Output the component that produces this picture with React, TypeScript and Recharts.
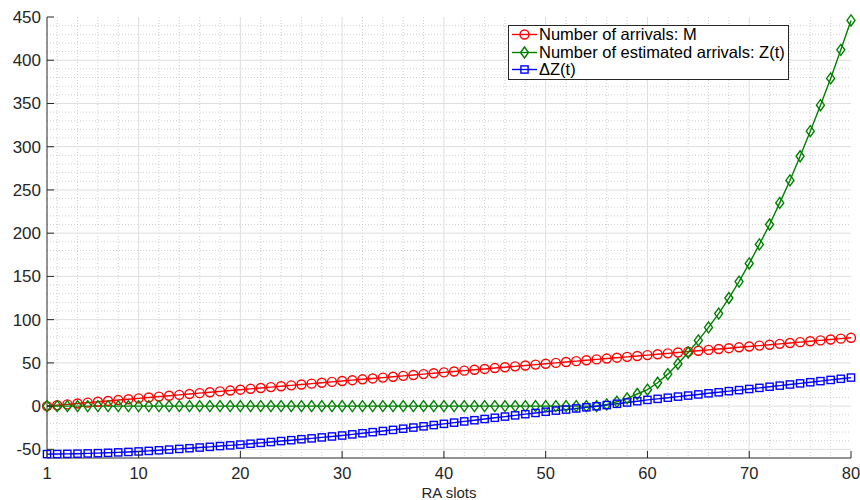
import React from 'react';
import { LineChart, Line, XAxis, YAxis, CartesianGrid, Legend } from 'recharts';

// RA slot index
const slots = [
  1, 2, 3, 4, 5, 6, 7, 8, 9, 10, 11, 12, 13, 14, 15, 16, 17, 18, 19, 20,
  21, 22, 23, 24, 25, 26, 27, 28, 29, 30, 31, 32, 33, 34, 35, 36, 37, 38, 39, 40,
  41, 42, 43, 44, 45, 46, 47, 48, 49, 50, 51, 52, 53, 54, 55, 56, 57, 58, 59, 60,
  61, 62, 63, 64, 65, 66, 67, 68, 69, 70, 71, 72, 73, 74, 75, 76, 77, 78, 79, 80,
];

// Number of arrivals: M
const arrivals = [
  0, 1, 2, 3, 4, 5, 6, 7, 8, 9, 10, 11, 12, 13, 14, 15, 16, 17, 18, 19,
  20, 21, 22, 23, 24, 25, 26, 27, 28, 29, 30, 31, 32, 33, 34, 35, 36, 37, 38, 39,
  40, 41, 42, 43, 44, 45, 46, 47, 48, 49, 50, 51, 52, 53, 54, 55, 56, 57, 58, 59,
  60, 61, 62, 63, 64, 65, 66, 67, 68, 69, 70, 71, 72, 73, 74, 75, 76, 77, 78, 79,
];

// Number of estimated arrivals: Z(t)
const estimated = [
  0, 0, 0, 0, 0, 0, 0, 0, 0, 0, 0, 0, 0, 0, 0, 0, 0, 0, 0, 0,
  0, 0, 0, 0, 0, 0, 0, 0, 0, 0, 0, 0, 0, 0, 0, 0, 0, 0, 0, 0,
  0, 0, 0, 0, 0, 0, 0, 0, 0, 0, 0, 0, 0, 0, 0, 2, 5, 9, 14, 19,
  27, 37, 49, 62, 76, 91, 107, 125, 144, 165, 187, 210, 235, 261, 289, 318, 348, 379, 412, 446,
];

// ΔZ(t)
const deltaZ = [
  -55.5, -55.4, -55.2, -55.0, -54.7, -54.4, -54.0, -53.5, -53.0, -52.4,
  -51.8, -51.1, -50.3, -49.5, -48.7, -47.9, -47.1, -46.2, -45.4, -44.5,
  -43.5, -42.5, -41.5, -40.4, -39.4, -38.3, -37.3, -36.2, -35.1, -34.0,
  -32.7, -31.4, -30.1, -28.8, -27.5, -26.1, -24.8, -23.4, -21.9, -20.5,
  -19.1, -17.7, -16.3, -14.9, -13.5, -12.1, -10.7, -9.3, -7.9, -6.5,
  -5.2, -4.0, -2.7, -1.4, -0.2, 1.2, 2.7, 4.2, 5.7, 7.2,
  8.4, 9.7, 11.0, 12.2, 13.5, 14.8, 16.0, 17.3, 18.5, 19.8,
  21.1, 22.4, 23.7, 25.0, 26.3, 27.6, 28.9, 30.3, 31.6, 33.0,
];

const xTicks = [1, 10, 20, 30, 40, 50, 60, 70, 80];
const yTicks = [-50, 0, 50, 100, 150, 200, 250, 300, 350, 400, 450];
const xMinor = Array.from({ length: 39 }, (_, i) => 2 + 2 * i).filter((v) => v % 10 !== 0);
const yMinor = Array.from({ length: 49 }, (_, i) => -40 + 10 * i).filter((v) => v % 50 !== 0);

const data = slots.map((t, i) => ({ t, m: arrivals[i], z: estimated[i], dz: deltaZ[i] }));

const FONT = '"Liberation Sans", Arial, Helvetica, sans-serif';
const INK = '#262626';
const RED = '#ff0000';
const GREEN = '#008000';
const BLUE = '#0000ff';
const TICK_LEN = 7;

const Marker = ({ shape, cx, cy, color }: { shape: string; cx: number; cy: number; color: string }) => {
  if (shape === 'circle') {
    return <circle cx={cx} cy={cy} r={4.5} fill="none" stroke={color} strokeWidth={1.4} />;
  }
  if (shape === 'diamond') {
    return (
      <path
        d={`M${cx},${cy - 5.5} L${cx + 4},${cy} L${cx},${cy + 5.5} L${cx - 4},${cy} Z`}
        fill="none"
        stroke={color}
        strokeWidth={1.4}
      />
    );
  }
  return <rect x={cx - 3.6} y={cy - 3.6} width={7.2} height={7.2} fill="none" stroke={color} strokeWidth={1.4} />;
};

const makeDot = (shape: string, color: string) => (props: any) => {
  const { cx, cy, index } = props;
  if (cx == null || cy == null) return <g key={`e-${index}`} />;
  return (
    <g key={`${shape}-${index}`}>
      <Marker shape={shape} cx={cx} cy={cy} color={color} />
    </g>
  );
};

const BottomTick = (props: any) => {
  const { x, y, payload } = props;
  return (
    <g>
      <line x1={x} y1={y} x2={x} y2={y - TICK_LEN} stroke={INK} />
      <text x={x} y={y + 21} textAnchor="middle" fill={INK} fontSize={16.5} fontFamily={FONT}>
        {payload.value}
      </text>
    </g>
  );
};

const TopTick = (props: any) => {
  const { x, y } = props;
  return <line x1={x} y1={y} x2={x} y2={y + TICK_LEN} stroke={INK} />;
};

const LeftTick = (props: any) => {
  const { x, y, payload } = props;
  return (
    <g>
      <line x1={x} y1={y} x2={x + TICK_LEN} y2={y} stroke={INK} />
      <text x={x - 6} y={y + 6} textAnchor="end" fill={INK} fontSize={17} fontFamily={FONT}>
        {payload.value}
      </text>
    </g>
  );
};

const RightTick = (props: any) => {
  const { x, y } = props;
  return <line x1={x} y1={y} x2={x - TICK_LEN} y2={y} stroke={INK} />;
};

const shapes: Record<string, string> = { m: 'circle', z: 'diamond', dz: 'square' };

const LegendBox = (props: any) => {
  const { payload } = props;
  return (
    <div
      style={{
        border: `1px solid ${INK}`,
        background: '#fff',
        padding: '0px 3px 0px 3px',
        fontFamily: FONT,
        fontSize: 16.5,
        lineHeight: '17.5px',
        color: '#000',
        whiteSpace: 'nowrap',
      }}
    >
      {(payload || []).map((entry: any) => (
        <div key={entry.dataKey} style={{ display: 'flex', alignItems: 'center', height: 17.5 }}>
          <svg width={26} height={17} style={{ display: 'block' }}>
            <line x1={0} y1={8.5} x2={25} y2={8.5} stroke={entry.color} strokeWidth={1.4} />
            <Marker shape={shapes[entry.dataKey]} cx={12.5} cy={8.5} color={entry.color} />
          </svg>
          <span style={{ marginLeft: 1 }}>{entry.value}</span>
        </div>
      ))}
    </div>
  );
};

export default function App() {
  return (
    <div style={{ position: 'absolute', left: 0, top: 0, width: 860, height: 500, background: '#fff' }}>
      <LineChart
        width={860}
        height={500}
        data={data}
        margin={{ top: 17, right: 9, bottom: 0, left: 0 }}
        style={{ fontFamily: FONT }}
      >
        <CartesianGrid
          horizontalValues={yMinor}
          verticalValues={xMinor}
          stroke="#c4c4c4"
          strokeDasharray="1 2"
          strokeWidth={0.8}
        />
        <CartesianGrid
          horizontalValues={yTicks.filter((v) => v !== 450)}
          verticalValues={xTicks.filter((v) => v !== 1 && v !== 80)}
          stroke="#dedede"
          strokeWidth={1}
        />
        <XAxis
          dataKey="t"
          type="number"
          domain={[1, 80]}
          ticks={xTicks}
          interval={0}
          height={42}
          tickSize={0}
          tickMargin={0}
          tickLine={false}
          axisLine={{ stroke: INK }}
          tick={<BottomTick />}
          label={{ value: 'RA slots', position: 'insideBottom', offset: 2, fill: INK, fontSize: 15, fontFamily: FONT }}
        />
        <XAxis
          xAxisId="top"
          dataKey="t"
          type="number"
          orientation="top"
          domain={[1, 80]}
          ticks={xTicks}
          interval={0}
          height={0}
          tickSize={0}
          tickMargin={0}
          tickLine={false}
          axisLine={{ stroke: INK }}
          tick={<TopTick />}
        />
        <YAxis
          type="number"
          domain={[-60, 450]}
          ticks={yTicks}
          interval={0}
          width={47}
          tickSize={0}
          tickMargin={0}
          tickLine={false}
          axisLine={{ stroke: INK }}
          tick={<LeftTick />}
        />
        <YAxis
          yAxisId="right"
          orientation="right"
          type="number"
          domain={[-60, 450]}
          ticks={yTicks}
          interval={0}
          width={0}
          tickSize={0}
          tickMargin={0}
          tickLine={false}
          axisLine={{ stroke: INK }}
          tick={<RightTick />}
        />
        <Legend
          layout="vertical"
          align="center"
          verticalAlign="middle"
          content={<LegendBox />}
          wrapperStyle={{ left: 508, top: 25, width: 'auto', height: 'auto' }}
        />
        <Line
          dataKey="m"
          name="Number of arrivals: M"
          stroke={RED}
          strokeWidth={1.4}
          dot={makeDot('circle', RED)}
          activeDot={false}
          isAnimationActive={false}
        />
        <Line
          dataKey="z"
          name="Number of estimated arrivals: Z(t)"
          stroke={GREEN}
          strokeWidth={1.4}
          dot={makeDot('diamond', GREEN)}
          activeDot={false}
          isAnimationActive={false}
        />
        <Line
          dataKey="dz"
          name="ΔZ(t)"
          stroke={BLUE}
          strokeWidth={1.4}
          dot={makeDot('square', BLUE)}
          activeDot={false}
          isAnimationActive={false}
        />
      </LineChart>
    </div>
  );
}
